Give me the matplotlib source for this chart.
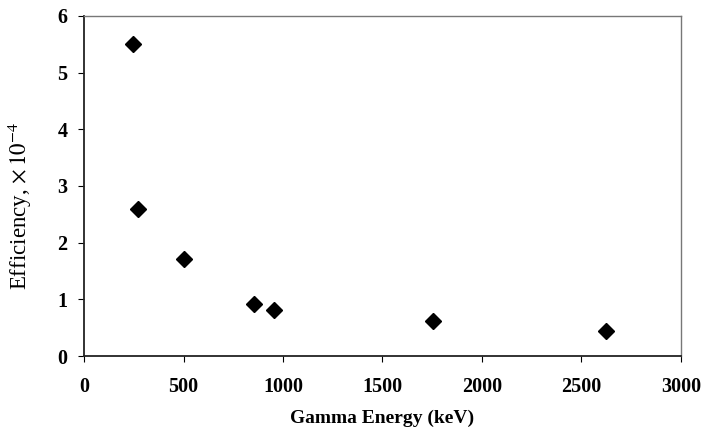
import matplotlib
matplotlib.use("Agg")
import matplotlib.pyplot as plt

energy_kev = [245, 270, 504, 852, 955, 1752, 2625]
efficiency_e4 = [5.50, 2.60, 1.71, 0.92, 0.82, 0.62, 0.44]
x_ticks = [0, 500, 1000, 1500, 2000, 2500, 3000]
y_ticks = [0, 1, 2, 3, 4, 5, 6]

plt.rcParams["font.family"] = ["Liberation Serif", "DejaVu Serif"]
plt.rcParams["mathtext.fontset"] = "stix"

fig = plt.figure(figsize=(7.02, 4.28), dpi=100)
ax = fig.add_axes([0.1197, 0.168, 0.8503, 0.795])

ax.plot(energy_kev, efficiency_e4, linestyle="none", marker="D",
        markersize=8.5, color="black")

ax.set_xlim(0, 3000)
ax.set_ylim(0, 6)
ax.set_xticks(x_ticks)
ax.set_yticks(y_ticks)
ax.tick_params(axis="x", direction="out", length=4, pad=11, labelsize=14.5)
ax.tick_params(axis="y", direction="out", length=4, pad=8, labelsize=14.5)
for lbl in ax.get_xticklabels() + ax.get_yticklabels():
    lbl.set_fontweight("bold")

for side in ["left", "bottom"]:
    ax.spines[side].set_color("#222222")
    ax.spines[side].set_linewidth(1.3)
for side in ["top", "right"]:
    ax.spines[side].set_color("#777777")
    ax.spines[side].set_linewidth(1.0)

ax.set_xlabel("Gamma Energy (keV)", fontsize=14, fontweight="bold", labelpad=9)
ax.set_ylabel(r"Efficiency, $\times\,10^{-4}$", fontsize=16.5)
ax.yaxis.set_label_coords(-0.083, 0.44)

fig.savefig("out.png", dpi=100)
